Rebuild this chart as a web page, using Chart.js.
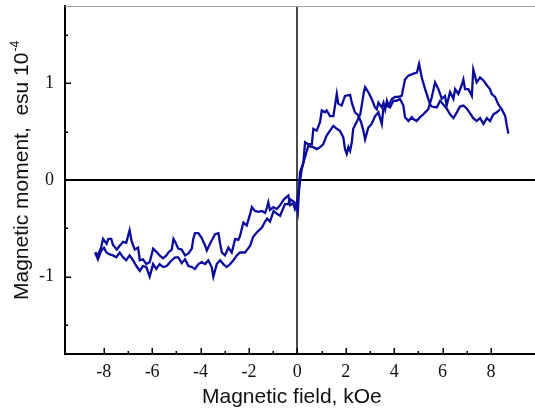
<!DOCTYPE html>
<html>
<head>
<meta charset="utf-8">
<script src="https://cdn.jsdelivr.net/npm/chart.js@4.4.0/dist/chart.umd.min.js"></script>
<style>
  html, body { margin: 0; padding: 0; background: #fff; }
</style>
</head>
<body>
<canvas id="grafico" width="535" height="410"></canvas>
<script>
// Ramo superior (lado negativo)
const campoRamo1 = [-8.35,-8.24,-8.11,-8.03,-7.88,-7.81,-7.69,-7.62,-7.46,-7.34,-7.20,-7.07,-6.93,-6.85,-6.72,-6.58,-6.51,-6.38,-6.24,-6.10,
  -5.96,-5.83,-5.69,-5.55,-5.41,-5.33,-5.19,-5.12,-5.05,-4.92,-4.78,-4.64,-4.50,-4.36,-4.30,-4.23,-4.09,-3.95,-3.81,-3.74,
  -3.61,-3.40,-3.26,-3.19,-3.12,-2.99,-2.85,-2.71,-2.57,-2.44,-2.37,-2.23,-2.09,-1.95,-1.88,-1.75,-1.61,-1.47,-1.33,-1.26,
  -1.20,-1.13,-0.99,-0.85,-0.71,-0.58,-0.51,-0.37,-0.30,-0.17,-0.10,-0.05,0.04,0.18,0.25,0.32,0.45,0.60,0.66,0.80,
  0.94,1.01,1.14,1.21,1.35,1.49,1.63,1.69,1.83,1.97,2.18,2.25,2.38,2.51,2.63,2.73,2.80,2.93,3.07,3.21,
  3.35,3.49,3.55,3.69,3.83,3.97,4.11,4.24,4.38,4.45,4.59,4.73,4.79,4.93,5.07,5.21,5.28,5.41,5.55,5.69,
  5.83,5.97,6.10,6.17,6.31,6.45,6.52,6.65,6.79,6.86,6.93,7.07,7.21,7.27,7.41,7.55,7.69,7.83,7.96,8.03,
  8.17,8.31,8.45,8.59,8.65,8.72];
const momentoRamo1 = [-0.75,-0.78,-0.70,-0.61,-0.66,-0.61,-0.61,-0.67,-0.72,-0.68,-0.64,-0.65,-0.52,-0.63,-0.72,-0.70,-0.83,-0.82,-0.87,-0.85,
  -0.71,-0.74,-0.78,-0.81,-0.78,-0.75,-0.72,-0.61,-0.64,-0.71,-0.72,-0.78,-0.76,-0.71,-0.61,-0.55,-0.55,-0.60,-0.68,-0.73,
  -0.66,-0.56,-0.55,-0.66,-0.75,-0.78,-0.70,-0.75,-0.61,-0.62,-0.58,-0.44,-0.47,-0.35,-0.28,-0.32,-0.33,-0.32,-0.34,-0.29,
  -0.23,-0.31,-0.28,-0.30,-0.26,-0.21,-0.19,-0.16,-0.26,-0.24,-0.30,-0.27,-0.14,0.11,0.18,0.39,0.37,0.37,0.53,0.51,
  0.60,0.72,0.70,0.72,0.66,0.66,0.89,0.79,0.77,0.87,0.88,0.80,0.70,0.67,0.60,0.51,0.42,0.54,0.58,0.66,
  0.70,0.58,0.73,0.77,0.75,0.82,0.82,0.84,0.77,0.65,0.61,0.65,0.63,0.61,0.65,0.68,0.70,0.73,0.85,1.01,
  0.94,0.84,0.87,0.77,0.91,0.84,0.94,0.89,0.98,1.04,0.94,0.94,0.87,1.14,1.01,1.06,1.03,0.98,0.94,0.89,
  0.86,0.78,0.73,0.66,0.57,0.48];

// Ramo inferior (lado negativo)
const campoRamo2 = [-8.36,-8.24,-8.10,-7.99,-7.89,-7.75,-7.62,-7.48,-7.34,-7.20,-7.07,-6.93,-6.79,-6.65,-6.51,-6.38,-6.24,-6.10,-5.96,-5.83,
  -5.69,-5.55,-5.40,-5.19,-5.05,-4.92,-4.78,-4.64,-4.50,-4.36,-4.23,-4.09,-3.95,-3.81,-3.68,-3.54,-3.47,-3.33,-3.19,-3.06,
  -2.92,-2.78,-2.64,-2.50,-2.37,-2.16,-2.04,-1.95,-1.83,-1.67,-1.54,-1.46,-1.33,-1.25,-1.13,-1.05,-0.98,-0.84,-0.71,-0.63,
  -0.51,-0.38,-0.30,-0.18,-0.05,0.02,0.11,0.25,0.45,0.66,0.80,0.94,1.07,1.21,1.35,1.49,1.63,1.76,1.90,1.97,
  2.04,2.11,2.18,2.25,2.31,2.45,2.60,2.68,2.75,2.80,2.93,3.07,3.21,3.28,3.35,3.49,3.56,3.63,3.70,3.77,
  3.91,4.04,4.17,4.31,4.45,4.59,4.80,4.94,5.03,5.14,5.28,5.41,5.49,5.55,5.76,5.90,6.03,6.17,6.31,6.45,
  6.59,6.72,6.86,7.00,7.14,7.27,7.41,7.55,7.69,7.83,7.96,8.10,8.24,8.38];
const momentoRamo2 = [-0.75,-0.82,-0.73,-0.70,-0.75,-0.77,-0.78,-0.80,-0.75,-0.80,-0.83,-0.78,-0.83,-0.89,-0.94,-0.89,-0.90,-1.00,-0.87,-0.92,
  -0.87,-0.90,-0.89,-0.83,-0.80,-0.80,-0.86,-0.82,-0.89,-0.90,-0.92,-0.87,-0.85,-0.87,-0.83,-0.90,-1.00,-0.87,-0.83,-0.87,
  -0.90,-0.87,-0.83,-0.78,-0.75,-0.75,-0.71,-0.68,-0.59,-0.54,-0.51,-0.49,-0.43,-0.40,-0.43,-0.37,-0.32,-0.35,-0.37,-0.32,
  -0.25,-0.25,-0.20,-0.22,-0.25,-0.33,0.08,0.18,0.35,0.34,0.32,0.34,0.37,0.46,0.51,0.56,0.53,0.51,0.44,0.32,
  0.27,0.34,0.30,0.39,0.53,0.60,0.68,0.80,0.91,0.96,0.91,0.84,0.75,0.73,0.80,0.75,0.80,0.73,0.82,0.77,
  0.84,0.86,0.86,0.87,1.04,1.08,1.10,1.11,1.20,1.06,0.94,0.84,0.78,0.76,0.75,0.82,0.78,0.74,0.68,0.64,
  0.70,0.76,0.77,0.74,0.69,0.64,0.61,0.64,0.58,0.64,0.61,0.68,0.70,0.73];

// Rótulos dos eixos
const rotulosX = [-8, -6, -4, -2, 0, 2, 4, 6, 8];
const rotulosY = [-1, 0, 1];
const tituloX = 'Magnetic field, kOe';
const tituloY = 'Magnetic moment,  esu 10';
const expoenteY = '-4';

const corLinha = '#0c0c9c';

// Monta os pontos {x, y} para o Chart.js
function montarPontos(campo, momento) {
  return campo.map((c, i) => ({ x: c, y: momento[i] }));
}

// Tira o espaço extra que o Chart.js reserva para os rótulos das pontas
function zerarMargens(s) {
  s.paddingTop = 0;
  s.paddingBottom = 0;
  s.paddingLeft = 0;
  s.paddingRight = 0;
}

// Plugin: linha de cima, marcas para dentro e títulos dos eixos
const pluginEixos = {
  id: 'eixos',
  afterDraw(chart) {
    const { ctx, chartArea: a, scales: { x, y } } = chart;
    ctx.save();

    ctx.strokeStyle = '#a0a0a0';
    ctx.lineWidth = 1;
    ctx.beginPath();
    ctx.moveTo(a.left, a.top + 0.5);
    ctx.lineTo(a.right, a.top + 0.5);
    ctx.stroke();

    ctx.strokeStyle = '#000';
    ctx.lineWidth = 1.5;
    x.ticks.forEach(t => {
      if (!Number.isInteger(t.value)) return;
      const px = Math.round(x.getPixelForValue(t.value)) + 0.25;
      const tam = t.value % 2 === 0 ? 6 : 3;
      ctx.beginPath();
      ctx.moveTo(px, a.bottom);
      ctx.lineTo(px, a.bottom - tam);
      ctx.stroke();
    });
    y.ticks.forEach(t => {
      if (!Number.isInteger(t.value * 2)) return;
      const py = Math.round(y.getPixelForValue(t.value)) + 0.25;
      const tam = Number.isInteger(t.value) ? 6 : 3;
      ctx.beginPath();
      ctx.moveTo(a.left, py);
      ctx.lineTo(a.left + tam, py);
      ctx.stroke();
    });

    ctx.fillStyle = '#111';
    ctx.font = '21px "Liberation Sans", Arial, sans-serif';
    ctx.textBaseline = 'alphabetic';
    ctx.textAlign = 'left';
    ctx.fillText(tituloX, 202, 403);

    ctx.translate(28, 300);
    ctx.rotate(-Math.PI / 2);
    ctx.fillText(tituloY, 0, 0);
    const larg = ctx.measureText(tituloY).width;
    ctx.font = '12px "Liberation Sans", Arial, sans-serif';
    ctx.fillText(expoenteY, larg + 1, -9);
    ctx.restore();
  }
};

new Chart(document.getElementById('grafico'), {
  type: 'scatter',
  data: {
    datasets: [
      { data: montarPontos(campoRamo1, momentoRamo1), showLine: true, borderColor: corLinha, borderWidth: 2.3, pointRadius: 0, fill: false },
      { data: montarPontos(campoRamo2, momentoRamo2), showLine: true, borderColor: corLinha, borderWidth: 2.3, pointRadius: 0, fill: false }
    ]
  },
  options: {
    responsive: false,
    animation: false,
    devicePixelRatio: 1,
    layout: { padding: { top: 6, right: 0, left: 0, bottom: 0 } },
    plugins: { legend: { display: false }, tooltip: { enabled: false } },
    scales: {
      x: {
        type: 'linear',
        min: -9.6,
        max: 9.82,
        afterFit: s => { s.height = 56; zerarMargens(s); },
        border: { display: true, color: '#000', width: 2 },
        grid: {
          drawTicks: false,
          lineWidth: 2,
          color: c => (c.tick && c.tick.value === 0) ? '#4a4a4a' : 'rgba(0,0,0,0)'
        },
        ticks: {
          stepSize: 1,
          autoSkip: false,
          maxRotation: 0,
          padding: 7,
          color: '#111',
          font: { family: '"Liberation Serif", "Times New Roman", serif', size: 18 },
          callback: v => rotulosX.includes(v) ? String(v) : ''
        }
      },
      y: {
        type: 'linear',
        min: -1.8,
        max: 1.8,
        afterFit: s => { s.width = 65; zerarMargens(s); },
        border: { display: true, color: '#000', width: 2 },
        grid: {
          drawTicks: false,
          lineWidth: 2,
          color: c => (c.tick && c.tick.value === 0) ? '#000' : 'rgba(0,0,0,0)'
        },
        ticks: {
          stepSize: 0.5,
          autoSkip: false,
          padding: 11,
          color: '#111',
          font: { family: '"Liberation Serif", "Times New Roman", serif', size: 18 },
          callback: v => rotulosY.includes(v) ? String(v) : ''
        }
      }
    }
  },
  plugins: [pluginEixos]
});
</script>
</body>
</html>
